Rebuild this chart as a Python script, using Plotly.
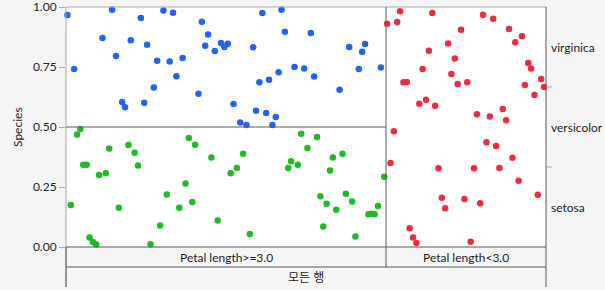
import plotly.graph_objects as go

# ---- data (x: fraction of all rows, y: species mosaic position) ----
species = ["setosa", "versicolor", "virginica"]
groups = ["Petal length>=3.0", "Petal length<3.0"]
group_counts = [100, 50]
overall_label = "모든 행"
ytick_vals = [0.0, 0.25, 0.5, 0.75, 1.0]

virginica_x = [0.003, 0.017, 0.076, 0.096, 0.104, 0.117, 0.123, 0.135, 0.156, 0.163,
               0.169, 0.183, 0.190, 0.203, 0.216, 0.223, 0.230, 0.243, 0.276, 0.283,
               0.290, 0.296, 0.310, 0.323, 0.330, 0.337, 0.390, 0.409, 0.449, 0.456,
               0.510, 0.349, 0.363, 0.376, 0.396, 0.403, 0.417, 0.423, 0.430, 0.437,
               0.443, 0.476, 0.496, 0.517, 0.570, 0.590, 0.617, 0.623, 0.610, 0.656]
virginica_y = [0.967, 0.742, 0.871, 0.989, 0.796, 0.604, 0.582, 0.861, 0.954, 0.601,
               0.843, 0.665, 0.776, 0.985, 0.773, 0.976, 0.711, 0.788, 0.639, 0.939,
               0.839, 0.885, 0.817, 0.850, 0.833, 0.847, 0.832, 0.975, 0.989, 0.897,
               0.892, 0.596, 0.519, 0.508, 0.568, 0.686, 0.558, 0.697, 0.508, 0.542,
               0.728, 0.750, 0.744, 0.710, 0.655, 0.833, 0.814, 0.846, 0.742, 0.748]

versicolor_x = [0.010, 0.023, 0.030, 0.036, 0.043, 0.049, 0.056, 0.063, 0.069, 0.083,
                0.090, 0.110, 0.130, 0.143, 0.150, 0.176, 0.196, 0.210, 0.236, 0.249,
                0.256, 0.263, 0.269, 0.303, 0.316, 0.343, 0.356, 0.369, 0.383, 0.469,
                0.463, 0.483, 0.490, 0.503, 0.523, 0.530, 0.536, 0.543, 0.550, 0.556,
                0.563, 0.576, 0.583, 0.596, 0.603, 0.630, 0.636, 0.643, 0.650, 0.663]
versicolor_y = [0.175, 0.469, 0.492, 0.343, 0.343, 0.040, 0.021, 0.010, 0.300, 0.307,
                0.410, 0.164, 0.425, 0.393, 0.340, 0.011, 0.090, 0.219, 0.164, 0.265,
                0.454, 0.188, 0.426, 0.373, 0.110, 0.307, 0.329, 0.389, 0.054, 0.357,
                0.329, 0.343, 0.472, 0.413, 0.458, 0.211, 0.085, 0.180, 0.319, 0.373,
                0.155, 0.389, 0.222, 0.190, 0.044, 0.136, 0.139, 0.136, 0.171, 0.293]

setosa_x = [0.669, 0.690, 0.696, 0.763, 0.823, 0.796, 0.756, 0.810, 0.743, 0.803,
            0.703, 0.710, 0.816, 0.836, 0.736, 0.750, 0.769, 0.856, 0.883, 0.910,
            0.917, 0.869, 0.890, 0.923, 0.936, 0.950, 0.963, 0.969, 0.990, 0.956,
            0.996, 0.976, 0.683, 0.676, 0.876, 0.896, 0.930, 0.776, 0.850, 0.903,
            0.943, 0.983, 0.783, 0.830, 0.790, 0.863, 0.716, 0.723, 0.730, 0.843]
setosa_y = [0.930, 0.938, 0.982, 0.975, 0.905, 0.848, 0.818, 0.785, 0.742, 0.721,
            0.686, 0.688, 0.679, 0.686, 0.597, 0.614, 0.589, 0.553, 0.544, 0.575,
            0.528, 0.968, 0.951, 0.908, 0.853, 0.878, 0.767, 0.744, 0.700, 0.675,
            0.667, 0.633, 0.482, 0.350, 0.436, 0.421, 0.372, 0.328, 0.328, 0.329,
            0.276, 0.218, 0.205, 0.200, 0.161, 0.182, 0.078, 0.040, 0.017, 0.022]

colors = {"virginica": "#2462F2", "versicolor": "#1FBA26", "setosa": "#EE2B3E"}

W, H = 605, 290
ml, mr, mt, mb = 66, 59, 7, 43
ph = H - mt - mb
pw = W - ml - mr
band = 20 / ph  # height of one label band in paper units

total = sum(group_counts)
split = group_counts[0] / total
left_green_share = 0.5

fig = go.Figure()
for name, xs, ys in [("virginica", virginica_x, virginica_y),
                     ("versicolor", versicolor_x, versicolor_y),
                     ("setosa", setosa_x, setosa_y)]:
    fig.add_trace(go.Scatter(x=xs, y=ys, mode="markers", name=name,
                             marker=dict(color=colors[name], size=6.5, line=dict(width=0)),
                             hoverinfo="skip", cliponaxis=False))

dark = "#5a5a5a"
light = "#a8a8a8"
shapes = [
    dict(type="line", xref="paper", yref="paper", x0=0, x1=1, y0=1, y1=1, line=dict(color=light, width=1)),
    dict(type="line", xref="paper", yref="paper", x0=0, x1=0, y0=-2 * band, y1=1, line=dict(color=light, width=1)),
    dict(type="line", xref="paper", yref="paper", x0=0, x1=0, y0=-2 * band, y1=0, line=dict(color=dark, width=1)),
    dict(type="line", xref="paper", yref="paper", x0=1, x1=1, y0=-2 * band, y1=1, line=dict(color=dark, width=1)),
    dict(type="line", xref="paper", yref="paper", x0=0, x1=1, y0=0, y1=0, line=dict(color=dark, width=1)),
    dict(type="line", xref="paper", yref="paper", x0=0, x1=1, y0=-band, y1=-band, line=dict(color=dark, width=1)),
    dict(type="line", xref="x", yref="paper", x0=split, x1=split, y0=-band, y1=1, line=dict(color=dark, width=1)),
    dict(type="line", xref="x", yref="y", x0=0, x1=split, y0=left_green_share, y1=left_green_share,
         line=dict(color=dark, width=1)),
]
for k in (1, 2):
    shapes.append(dict(type="line", xref="paper", yref="y", x0=1, x1=1 + 6 / pw,
                       y0=k / 3, y1=k / 3, line=dict(color=light, width=1)))

font = "Lato, Noto Sans CJK KR, sans-serif"
txt = dict(size=12, color="#1e1e1e")
annotations = []
for i, sp in enumerate(species):
    annotations.append(dict(xref="paper", yref="y", x=1, y=(2 * i + 1) / 6, xshift=3,
                            text=sp, showarrow=False, xanchor="left", yanchor="middle", font=txt))
annotations.append(dict(xref="x", yref="paper", x=split / 2, y=-band / 2, text=groups[0],
                        showarrow=False, xanchor="center", yanchor="middle", font=txt))
annotations.append(dict(xref="x", yref="paper", x=(split + 1) / 2, y=-band / 2, text=groups[1],
                        showarrow=False, xanchor="center", yanchor="middle", font=txt))
annotations.append(dict(xref="paper", yref="paper", x=0.5, y=-1.5 * band, text=overall_label,
                        showarrow=False, xanchor="center", yanchor="middle", font=txt))
annotations.append(dict(xref="paper", yref="paper", x=-49 / pw, y=0.5, text="Species",
                        textangle=-90, showarrow=False, xanchor="center", yanchor="middle", font=txt))

fig.update_layout(
    width=W, height=H,
    margin=dict(l=ml, r=mr, t=mt, b=mb, pad=0, autoexpand=False),
    paper_bgcolor="#f5f5f5", plot_bgcolor="#ffffff",
    showlegend=False,
    font=dict(family=font, size=12, color="#1e1e1e"),
    xaxis=dict(range=[0, 1], showgrid=False, zeroline=False, showticklabels=False, ticks="",
               showline=False, fixedrange=True, automargin=False),
    yaxis=dict(range=[0, 1], tickvals=ytick_vals, tickformat=".2f", ticks="outside", ticklen=6,
               tickcolor=light, showgrid=False, zeroline=False, showline=False,
               ticklabeloverflow="allow", automargin=False,
               tickfont=txt, fixedrange=True),
    shapes=shapes,
    annotations=annotations,
)

fig.write_html("out.html", config={"displayModeBar": False})
